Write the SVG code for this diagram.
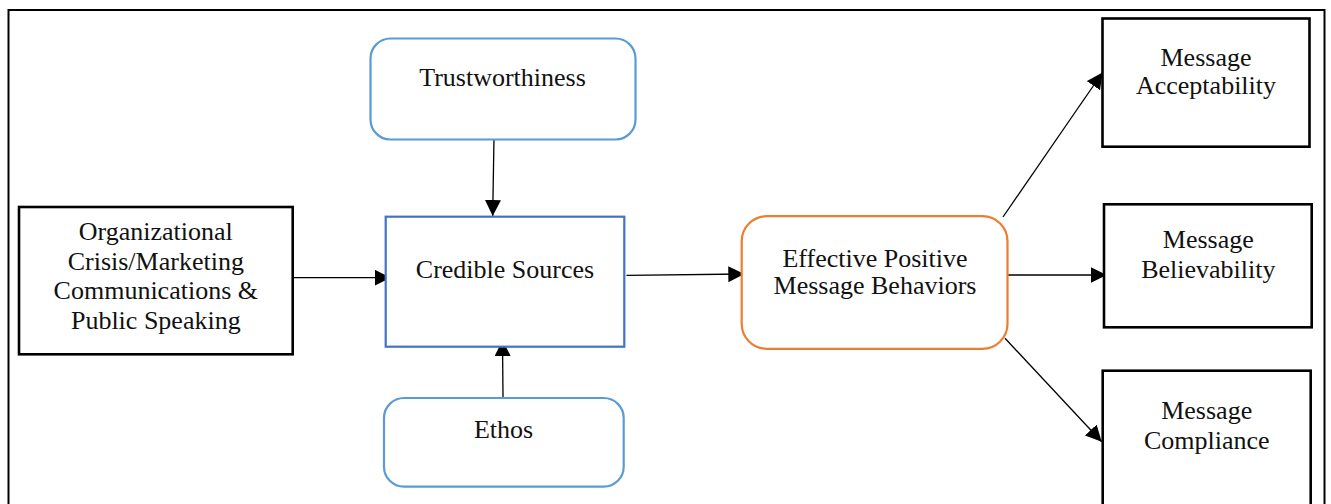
<svg xmlns="http://www.w3.org/2000/svg" width="1331" height="504" viewBox="0 0 1331 504">
<defs>
<style>
text{font-family:"Liberation Serif","Times New Roman",serif;font-size:26px;fill:#111;text-anchor:middle}
.blk{fill:#fff;stroke:#000;stroke-width:2.6}
.lb{fill:#fff;stroke:#5B9BD5;stroke-width:2.2}
.db{fill:#fff;stroke:#4472C4;stroke-width:2.2}
.or{fill:#fff;stroke:#ED7D31;stroke-width:2.2}
.ln{stroke:#000;stroke-width:1.3;fill:none;marker-end:url(#ah)}
</style>
<marker id="ah" markerUnits="userSpaceOnUse" markerWidth="17" markerHeight="17" refX="16" refY="8" orient="auto">
<path d="M0,0 L16,8 L0,16 z" fill="#000"/>
</marker>
</defs>
<rect width="1331" height="504" fill="#fff"/>
<rect x="8.5" y="10" width="1316" height="600" fill="none" stroke="#000" stroke-width="2"/>

<g id="connectors">
<line class="ln" x1="494" y1="137" x2="492.7" y2="216"/>
<line class="ln" x1="293" y1="277.7" x2="390.7" y2="277.7"/>
<line class="ln" x1="503" y1="397" x2="502.5" y2="340"/>
<line class="ln" x1="626.5" y1="275.3" x2="744.3" y2="274"/>
<line class="ln" x1="1003" y1="217" x2="1102.5" y2="72.5"/>
<line class="ln" x1="1007" y1="275" x2="1106.7" y2="275"/>
<line class="ln" x1="1005" y1="338.3" x2="1101.7" y2="441.7"/>
</g>

<g id="trustworthiness">
<rect class="lb" x="370.5" y="38.5" width="265" height="101" rx="20"/>
<text x="502.5" y="86">Trustworthiness</text>
</g>

<g id="organizational">
<rect class="blk" x="19" y="207" width="273.7" height="147.3"/>
<text x="155.8" y="240">Organizational</text>
<text x="155.8" y="269.5">Crisis/Marketing</text>
<text x="155.8" y="299">Communications &amp;</text>
<text x="155.8" y="328.5">Public Speaking</text>
</g>

<g id="credible-sources">
<rect class="db" x="385.7" y="216.7" width="238.6" height="130"/>
<text x="505" y="278.3">Credible Sources</text>
</g>

<g id="ethos">
<rect class="lb" x="384" y="398" width="239.7" height="88.7" rx="20"/>
<text x="503.5" y="438">Ethos</text>
</g>

<g id="effective">
<rect class="or" x="741.7" y="216.2" width="265.8" height="132.6" rx="25"/>
<text x="875" y="266.7">Effective Positive</text>
<text x="875" y="294">Message Behaviors</text>
</g>

<g id="acceptability">
<rect class="blk" x="1102.5" y="18.5" width="207" height="128.2"/>
<text x="1206" y="66">Message</text>
<text x="1206" y="93.5">Acceptability</text>
</g>

<g id="believability">
<rect class="blk" x="1104" y="204.3" width="207.7" height="123"/>
<text x="1208.3" y="248.3">Message</text>
<text x="1208.3" y="278">Believability</text>
</g>

<g id="compliance">
<rect class="blk" x="1102.7" y="370.7" width="208" height="200"/>
<text x="1206.7" y="419.3">Message</text>
<text x="1206.7" y="449.3">Compliance</text>
</g>
</svg>
